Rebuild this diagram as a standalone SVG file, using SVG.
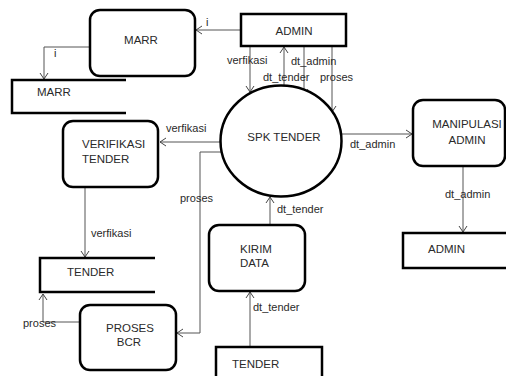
<svg xmlns="http://www.w3.org/2000/svg" width="506" height="376" viewBox="0 0 506 376">
<defs>
<marker id="arr" markerWidth="10" markerHeight="10" refX="8" refY="5" orient="auto" markerUnits="userSpaceOnUse">
<path d="M2,1 L8,5 L2,9" fill="none" stroke="#444" stroke-width="1"/>
</marker>
<style>
.n{fill:#fff;stroke:#000;stroke-width:2.5}
.s{fill:none;stroke:#000;stroke-width:2.5}
.t{font-family:"Liberation Sans",Arial,sans-serif;font-size:11.5px;fill:#2a2a2a}
.c{fill:none;stroke:#555;stroke-width:1;marker-end:url(#arr)}
.l{font-family:"Liberation Sans",Arial,sans-serif;font-size:11px;fill:#2a2a2a}
</style>
</defs>
<rect width="506" height="376" fill="#fff"/>
<g id="connectors">
<path class="c" d="M241,30 H196"/>
<path class="c" d="M90,47 H44 V79"/>
<path class="c" d="M250,47 V92"/>
<path class="c" d="M284,85 V47"/>
<path class="c" d="M304,47 V95"/>
<path class="c" d="M332,47 V112"/>
<path class="c" d="M342,134 H412"/>
<path class="c" d="M463,166 V232"/>
<path class="c" d="M220,142 H160"/>
<path class="c" d="M221,152 H200 V333 H177"/>
<path class="c" d="M85,187 V257"/>
<path class="c" d="M80,322 H43 V294"/>
<path class="c" d="M270,225 V197"/>
<path class="c" d="M250,347 V292"/>
<text class="l" x="206" y="26">i</text>
<text class="l" x="54" y="57">i</text>
<text class="l" x="227" y="64">verfikasi</text>
<text class="l" x="291" y="65">dt_admin</text>
<text class="l" x="263" y="81">dt_tender</text>
<text class="l" x="320" y="81">proses</text>
<text class="l" x="166" y="132">verfikasi</text>
<text class="l" x="180" y="202">proses</text>
<text class="l" x="91" y="237">verfikasi</text>
<text class="l" x="350" y="148">dt_admin</text>
<text class="l" x="445" y="198">dt_admin</text>
<text class="l" x="277" y="213">dt_tender</text>
<text class="l" x="253" y="311">dt_tender</text>
<text class="l" x="23" y="327">proses</text>
</g>
<g id="admin-top">
<rect class="n" x="241" y="14" width="105" height="32"/>
<text class="t" x="294" y="35" text-anchor="middle">ADMIN</text>
</g>
<g id="marr-process">
<rect class="n" x="90" y="10" width="105" height="66" rx="10"/>
<text class="t" x="141" y="44" text-anchor="middle">MARR</text>
</g>
<g id="marr-store">
<path class="s" d="M126,80 H12 V113 H126"/>
<text class="t" x="37" y="96">MARR</text>
</g>
<g id="spk-tender">
<ellipse class="n" cx="281" cy="141" rx="60.5" ry="55.5"/>
<text class="t" x="284" y="141" text-anchor="middle">SPK TENDER</text>
</g>
<g id="manipulasi-admin">
<rect class="n" x="413" y="100" width="92" height="66" rx="10"/>
<text class="t" x="467" y="128" text-anchor="middle">MANIPULASI</text>
<text class="t" x="467" y="144" text-anchor="middle">ADMIN</text>
</g>
<g id="admin-store">
<rect class="n" x="403" y="233" width="108" height="35"/>
<text class="t" x="428" y="253">ADMIN</text>
</g>
<g id="verifikasi-tender">
<rect class="n" x="63" y="121" width="95" height="66" rx="10"/>
<text class="t" x="82" y="148">VERIFIKASI</text>
<text class="t" x="82" y="163">TENDER</text>
</g>
<g id="tender-store">
<path class="s" d="M155,258 H40 V292 H155"/>
<text class="t" x="67" y="276">TENDER</text>
</g>
<g id="proses-bcr">
<rect class="n" x="80" y="305" width="96" height="65" rx="10"/>
<text class="t" x="130" y="332" text-anchor="middle">PROSES</text>
<text class="t" x="129" y="346" text-anchor="middle">BCR</text>
</g>
<g id="kirim-data">
<rect class="n" x="209" y="225" width="96" height="66" rx="10"/>
<text class="t" x="240" y="253">KIRIM</text>
<text class="t" x="240" y="267">DATA</text>
</g>
<g id="tender-bottom">
<rect class="n" x="216" y="347" width="106" height="40"/>
<text class="t" x="232" y="368">TENDER</text>
</g>
</svg>
